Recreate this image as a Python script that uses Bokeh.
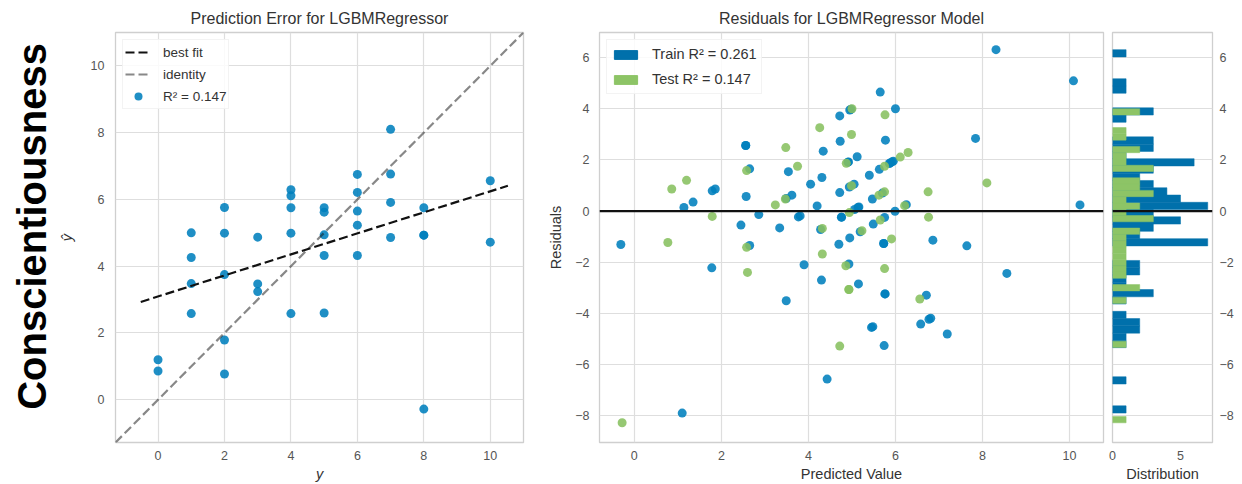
import numpy as np
from math import pi
from bokeh.plotting import figure
from bokeh.models import Range1d, Span, Legend, LegendItem, FixedTicker, ColumnDataSource
from bokeh.layouts import row
from bokeh.embed import file_html
from bokeh.resources import INLINE
from bokeh.core.properties import value

# ---------------- data ----------------
row_label = "Conscientiousness"

# test set: true values and predictions
y_test = [0, 0,
          1, 1, 1, 1,
          2, 2, 2, 2, 2,
          3, 3, 3,
          4, 4, 4, 4, 4,
          5, 5, 5, 5, 5,
          6, 6, 6, 6, 6,
          7, 7, 7, 7,
          8, 8, 8, 8,
          10, 10]
yhat_test = [1.20, 0.86,
             5.00, 4.26, 3.48, 2.58,
             5.76, 4.99, 3.75, 1.79, 0.77,
             4.87, 3.47, 3.24,
             6.29, 6.11, 5.75, 4.99, 2.58,
             5.75, 5.62, 4.94, 4.32, 2.60,
             6.75, 6.21, 5.65, 5.23, 4.32,
             8.10, 6.76, 5.91, 4.86,
             5.75, 4.93, 4.93, -0.28,
             6.56, 4.72]

# training set: true values and predictions
y_train = [1, 1, 1, 9, 1, 1, 4, 0, 0, 1,
           2, 3, 4, 3, 2, 3, 3, 4, 7, 4,
           4, 6, 3, 4, 2, 3, 5, 7, 11, 1,
           1, 1, 2, 3, 3, 3, 4, 4, 4, 5,
           5, 5, 5, 5, 6, 6, 6, 7, 8, 1,
           2, 3, 4, 4, 4, 4, 4, 4, 5, 5,
           6, 6, 6, 6, 7, 7, 9, 9, 10, 10,
           11, 10, 11, 11, 11, 8, 12, 2, 5, 5,
           10, 9, 11]
yhat_train = [-0.31, 1.14, 1.35, 1.10, 1.79, 1.86, 1.78, 2.56, 2.56, 2.65,
              2.57, 2.45, 2.65, 2.86, 3.54, 3.49, 3.62, 3.34, 3.49, 3.77,
              3.81, 3.90, 4.05, 4.20, 4.34, 4.31, 4.28, 4.30, 4.43, 4.72,
              4.95, 4.98, 4.73, 5.12, 4.91, 4.92, 4.72, 4.94, 5.05, 4.76,
              4.76, 5.06, 5.14, 5.16, 5.19, 4.95, 4.70, 4.93, 5.15, 5.65,
              6.00, 5.77, 5.40, 5.63, 5.88, 5.86, 5.95, 5.92, 5.47, 5.70,
              5.99, 6.25, 5.49, 5.75, 5.73, 5.73, 5.76, 5.76, 5.45, 5.48,
              5.74, 6.71, 6.58, 6.77, 6.81, 6.86, 7.19, 8.31, 10.09, 7.84,
              10.24, 7.64, 8.56]

# best-fit line end points
fit_x = [-0.52, 10.53]
fit_y = [2.93, 6.41]

r2_train = 0.261
r2_test = 0.147

pe_lim = [-1.28, 11.0]
pe_ticks = [0, 2, 4, 6, 8, 10]
res_xlim = [-0.80, 10.78]
res_ylim = [-9.05, 6.98]
res_xticks = [0, 2, 4, 6, 8, 10]
res_yticks = [-8, -6, -4, -2, 0, 2, 4, 6]
hist_xlim = [0, 7.35]
hist_xticks = [0, 5]
n_bins = 50

# ---------------- style ----------------
FONT = "Liberation Sans"
GRID = "#dedede"
OUTLINE = "#cfcfcf"
TICK_C = "#555555"
LABEL_C = "#333333"
PT_BLUE = "#0080bd"
PT_GREEN = "#88c060"
H_BLUE = "#0070ab"
H_GREEN = "#8dc466"
LINE_C = "#111111"


def minus(v):
    return str(v).replace("-", "\u2212")


def style(p, xticks, yticks):
    p.background_fill_color = "white"
    p.border_fill_color = "white"
    p.outline_line_color = OUTLINE
    p.outline_line_width = 1.3
    for ax in p.xaxis + p.yaxis:
        ax.axis_line_color = None
        ax.major_tick_line_color = None
        ax.minor_tick_line_color = None
        ax.major_tick_out = 0
        ax.major_tick_in = 0
        ax.major_label_text_font = FONT
        ax.major_label_text_font_size = "12.5px"
        ax.major_label_text_color = TICK_C
        ax.axis_label_text_font = FONT
        ax.axis_label_text_font_size = "14.5px"
        ax.axis_label_text_color = LABEL_C
        ax.axis_label_text_font_style = "normal"
    if xticks is not None:
        p.xaxis.ticker = FixedTicker(ticks=xticks)
        p.xaxis.major_label_overrides = {t: minus(t) for t in xticks}
    if yticks is not None:
        p.yaxis.ticker = FixedTicker(ticks=yticks)
        p.yaxis.major_label_overrides = {t: minus(t) for t in yticks}
    p.grid.grid_line_color = GRID
    p.grid.grid_line_width = 1.2
    p.title.text_font = FONT
    p.title.text_font_size = "16px"
    p.title.text_font_style = "normal"
    p.title.text_color = LABEL_C
    p.title.align = "center"


# ---------------- row label ----------------
p0 = figure(width=55, height=484, x_range=Range1d(0, 55), y_range=Range1d(0, 484),
            toolbar_location=None, output_backend="svg",
            x_axis_location=None, y_axis_location=None, min_border=0)
p0.grid.visible = False
p0.outline_line_color = None
p0.background_fill_color = "white"
p0.border_fill_color = "white"
p0.text(x=[31], y=[255], text=[row_label], angle=pi / 2, text_align="center",
        text_baseline="middle", text_font=value("Liberation Sans"),
        text_font_size="40px", text_font_style="bold", text_color="black")

# ---------------- prediction error ----------------
p1 = figure(width=489, height=484, x_range=Range1d(*pe_lim), y_range=Range1d(*pe_lim),
            toolbar_location=None, output_backend="svg",
            min_border_left=58, min_border_right=21, min_border_top=32, min_border_bottom=42,
            title="Prediction Error for LGBMRegressor")
style(p1, pe_ticks, pe_ticks)
p1.title.standoff = 12
p1.xaxis.axis_label = "y"
p1.yaxis.axis_label = "\u0177"
p1.xaxis.axis_label_text_font_style = "italic"
p1.yaxis.axis_label_text_font_style = "italic"
p1.xaxis.major_label_standoff = 8
p1.yaxis.major_label_standoff = 11
p1.xaxis.axis_label_standoff = 3
p1.yaxis.axis_label_standoff = 13

src_test = ColumnDataSource(dict(y=y_test, yhat=yhat_test))
r_pts = p1.scatter("y", "yhat", source=src_test, size=9, fill_color=PT_BLUE,
                   fill_alpha=0.88, line_alpha=0)
r_fit = p1.line(fit_x, fit_y, line_color=LINE_C, line_width=2.2, line_dash="9 4")
r_id = p1.line(pe_lim, pe_lim, line_color=LINE_C, line_alpha=0.5, line_width=2.2,
               line_dash="9 4")
leg1 = Legend(items=[LegendItem(label="best fit", renderers=[r_fit]),
                     LegendItem(label="identity", renderers=[r_id]),
                     LegendItem(label="R\u00b2 = %.3f" % r2_test, renderers=[r_pts])],
              location="top_left")
leg1.margin = 7
leg1.padding = 2
leg1.spacing = 2
leg1.label_height = 20
leg1.glyph_width = 26
leg1.glyph_height = 20
leg1.label_standoff = 12
leg1.label_text_font = FONT
leg1.label_text_font_size = "13.5px"
leg1.label_text_color = LABEL_C
leg1.border_line_color = "#e8e8e8"
leg1.background_fill_alpha = 0.85
p1.add_layout(leg1)

# ---------------- residuals ----------------
yt = np.array(y_train, float)
yp = np.array(yhat_train, float)
res_train = yp - yt
ytt = np.array(y_test, float)
ypt = np.array(yhat_test, float)
res_test = ypt - ytt

shared_y = Range1d(*res_ylim)
p2 = figure(width=564, height=484, x_range=Range1d(*res_xlim), y_range=shared_y,
            toolbar_location=None, output_backend="svg",
            min_border_left=55, min_border_right=5, min_border_top=32, min_border_bottom=42,
            title="Residuals for LGBMRegressor Model")
style(p2, res_xticks, res_yticks)
p2.title.standoff = 12
p2.xaxis.axis_label = "Predicted Value"
p2.yaxis.axis_label = "Residuals"
p2.xaxis.major_label_standoff = 8
p2.yaxis.major_label_standoff = 10
p2.xaxis.axis_label_standoff = 3
p2.yaxis.axis_label_standoff = 8

p2.scatter(yp, res_train, size=9, fill_color=PT_BLUE, fill_alpha=0.88, line_alpha=0)
p2.scatter(ypt, res_test, size=9, fill_color=PT_GREEN, fill_alpha=0.88, line_alpha=0)
p2.add_layout(Span(location=0, dimension="width", line_color=LINE_C, line_width=2.2))

nan = [np.nan]
lg_tr = p2.quad(left=nan, right=nan, top=nan, bottom=nan, fill_color=H_BLUE, line_color=H_BLUE)
lg_te = p2.quad(left=nan, right=nan, top=nan, bottom=nan, fill_color=H_GREEN, line_color=H_GREEN)
leg2 = Legend(items=[LegendItem(label="Train R\u00b2 = %.3f" % r2_train, renderers=[lg_tr]),
                     LegendItem(label="Test R\u00b2 = %.3f" % r2_test, renderers=[lg_te])],
              location="top_left")
leg2.margin = 7
leg2.padding = 4
leg2.spacing = 5
leg2.label_height = 20
leg2.glyph_width = 29
leg2.glyph_height = 11
leg2.label_standoff = 12
leg2.label_text_font = FONT
leg2.label_text_font_size = "14.5px"
leg2.label_text_color = LABEL_C
leg2.border_line_color = "#e8e8e8"
leg2.background_fill_alpha = 0.85
p2.add_layout(leg2)

# ---------------- histogram ----------------
p3 = figure(width=134, height=484, x_range=Range1d(*hist_xlim), y_range=shared_y,
            toolbar_location=None, output_backend="svg", y_axis_location="right",
            min_border_left=4, min_border_right=30, min_border_top=32, min_border_bottom=42)
style(p3, hist_xticks, res_yticks)
p3.xgrid.visible = False
p3.xaxis.axis_label = "Distribution"
p3.xaxis.major_label_standoff = 8
p3.yaxis.major_label_standoff = 7
p3.xaxis.axis_label_standoff = 3

cnt_tr, edg_tr = np.histogram(res_train, bins=n_bins)
cnt_te, edg_te = np.histogram(res_test, bins=n_bins)
m_tr = cnt_tr > 0
m_te = cnt_te > 0
p3.quad(left=0, right=cnt_tr[m_tr], bottom=edg_tr[:-1][m_tr], top=edg_tr[1:][m_tr],
        fill_color=H_BLUE, line_color=H_BLUE, line_width=0.5)
p3.quad(left=0, right=cnt_te[m_te], bottom=edg_te[:-1][m_te], top=edg_te[1:][m_te],
        fill_color=H_GREEN, line_color=H_GREEN, line_width=0.5)
p3.add_layout(Span(location=0, dimension="width", line_color=LINE_C, line_width=2.2))

layout = row(p0, p1, p2, p3)
open("out.html", "w").write(file_html(layout, INLINE))
